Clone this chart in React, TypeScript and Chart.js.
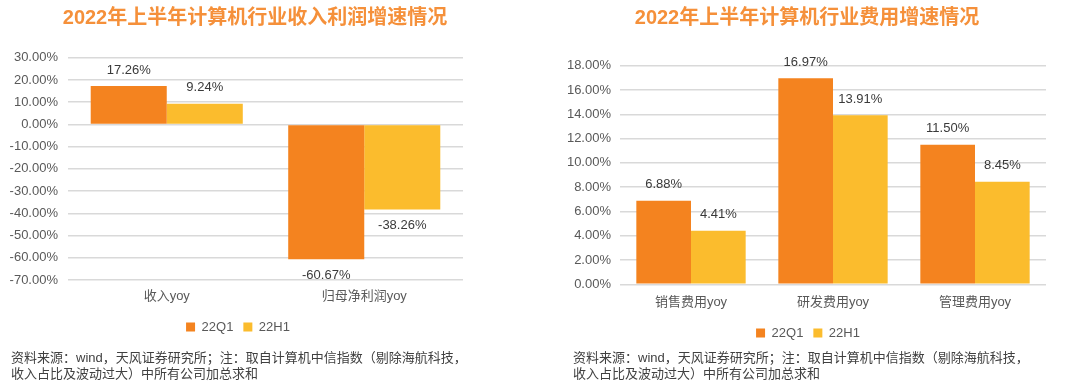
import React, { useEffect, useRef } from 'react';
import { Chart, registerables } from 'chart.js';

Chart.register(...registerables);

const leftTitle = '2022年上半年计算机行业收入利润增速情况';
const leftCategories = ['收入yoy', '归母净利润yoy'];
const left22Q1 = [17.26, -60.67];
const left22H1 = [9.24, -38.26];
const leftTicks = { min: -70, max: 30, step: 10 };

const rightTitle = '2022年上半年计算机行业费用增速情况';
const rightCategories = ['销售费用yoy', '研发费用yoy', '管理费用yoy'];
const right22Q1 = [6.88, 16.97, 11.5];
const right22H1 = [4.41, 13.91, 8.45];
const rightTicks = { min: 0, max: 18, step: 2 };

const seriesNames = ['22Q1', '22H1'];
const noteLines = [
  '资料来源：wind，天风证券研究所；注：取自计算机中信指数（剔除海航科技，',
  '收入占比及波动过大）中所有公司加总求和',
];

const FONT = "'Liberation Sans', Arial, 'Noto Sans CJK SC', sans-serif";
const ORANGE = '#F4831F';
const YELLOW = '#FBBC2D';

const placePlugin = {
  id: 'place',
  afterLayout(chart: any, _args: any, opts: any) {
    const t = chart.titleBlock;
    if (t && opts.titleCenter != null) {
      const w = t.right - t.left;
      t.left = opts.titleCenter - w / 2;
      t.right = t.left + w;
    }
    const l = chart.legend;
    if (l && opts.legendCenter != null) {
      const w = l.right - l.left;
      l.left = opts.legendCenter - w / 2;
      l.right = l.left + w;
    }
  },
};

const valueLabels = {
  id: 'valueLabels',
  afterDatasetsDraw(chart: any) {
    const ctx = chart.ctx;
    ctx.save();
    ctx.font = `13px ${FONT}`;
    ctx.fillStyle = '#3A3A3A';
    ctx.textAlign = 'center';
    ctx.textBaseline = 'middle';
    chart.data.datasets.forEach((ds: any, di: number) => {
      chart.getDatasetMeta(di).data.forEach((bar: any, i: number) => {
        const v = ds.data[i];
        const y = v >= 0 ? bar.y - 16 : bar.y + 16;
        ctx.fillText(v.toFixed(2) + '%', bar.x, y);
      });
    });
    ctx.restore();
  },
};

type Cfg = {
  title: string;
  categories: string[];
  q1: number[];
  h1: number[];
  ticks: { min: number; max: number; step: number };
  yWidth: number;
  padRight: number;
  padBottom: number;
  titleBottom: number;
  xHeight: number;
  xPad: number;
  yPad: number;
  titleCenter: number;
  legendCenter: number;
};

function BarChart({ cfg, width }: { cfg: Cfg; width: number }) {
  const ref = useRef<HTMLCanvasElement | null>(null);
  useEffect(() => {
    if (!ref.current) return;
    const chart = new Chart(ref.current, {
      type: 'bar',
      data: {
        labels: cfg.categories,
        datasets: [
          { label: seriesNames[0], data: cfg.q1, backgroundColor: ORANGE, borderWidth: 0 },
          { label: seriesNames[1], data: cfg.h1, backgroundColor: YELLOW, borderWidth: 0 },
        ],
      },
      options: {
        animation: false,
        responsive: false,
        maintainAspectRatio: false,
        layout: { padding: { left: 0, right: cfg.padRight, top: 0, bottom: cfg.padBottom } },
        datasets: { bar: { categoryPercentage: 0.77, barPercentage: 1 } },
        scales: {
          x: {
            grid: { display: false, drawTicks: false },
            border: { display: false },
            ticks: { color: '#595959', font: { size: 13, family: FONT }, padding: cfg.xPad },
            afterFit: (s: any) => {
              s.height = cfg.xHeight;
            },
          },
          y: {
            min: cfg.ticks.min,
            max: cfg.ticks.max,
            grid: { color: '#D9D9D9', lineWidth: 1.5, drawTicks: false },
            border: { display: false },
            ticks: {
              stepSize: cfg.ticks.step,
              color: '#595959',
              font: { size: 13, family: FONT },
              padding: cfg.yPad,
              callback: (v: any) => Number(v).toFixed(2) + '%',
            },
            afterFit: (s: any) => {
              s.width = cfg.yWidth;
            },
          },
        },
        plugins: {
          title: {
            display: true,
            text: cfg.title,
            color: '#F5903A',
            font: { size: 20, weight: 'bold', family: FONT, lineHeight: 1.2 },
            padding: { top: 6, bottom: cfg.titleBottom },
          },
          legend: {
            display: true,
            position: 'bottom',
            labels: {
              boxWidth: 9,
              boxHeight: 9,
              color: '#595959',
              font: { size: 13, family: FONT },
              padding: 10,
            },
          },
          tooltip: { enabled: false },
          place: { titleCenter: cfg.titleCenter, legendCenter: cfg.legendCenter },
        } as any,
      },
      plugins: [placePlugin, valueLabels],
    } as any);
    return () => chart.destroy();
  }, [cfg, width]);
  return <canvas ref={ref} width={width} height={388} style={{ display: 'block', width, height: 388 }} />;
}

const leftCfg: Cfg = {
  title: leftTitle,
  categories: leftCategories,
  q1: left22Q1,
  h1: left22H1,
  ticks: leftTicks,
  yWidth: 68,
  padRight: 67,
  padBottom: 44.5,
  titleBottom: 27.7,
  xHeight: 30.5,
  xPad: 9,
  yPad: 10,
  titleCenter: 255,
  legendCenter: 238,
};

const rightCfg: Cfg = {
  title: rightTitle,
  categories: rightCategories,
  q1: right22Q1,
  h1: right22H1,
  ticks: rightTicks,
  yWidth: 80,
  padRight: 34,
  padBottom: 38.5,
  titleBottom: 35.7,
  xHeight: 32.2,
  xPad: 10,
  yPad: 9,
  titleCenter: 267,
  legendCenter: 268,
};

function Note({ left }: { left: number }) {
  return (
    <div
      style={{
        position: 'absolute',
        left,
        top: 350,
        fontFamily: FONT,
        fontSize: 13,
        lineHeight: '16px',
        color: '#404040',
        whiteSpace: 'nowrap',
      }}
    >
      {noteLines.map((t, i) => (
        <div key={i}>{t}</div>
      ))}
    </div>
  );
}

export default function App() {
  return (
    <div
      style={{
        position: 'absolute',
        left: 0,
        top: 0,
        width: 1080,
        height: 388,
        background: '#fff',
        overflow: 'hidden',
      }}
    >
      <div style={{ position: 'absolute', left: 0, top: 0 }}>
        <BarChart cfg={leftCfg} width={530} />
      </div>
      <div style={{ position: 'absolute', left: 540, top: 0 }}>
        <BarChart cfg={rightCfg} width={540} />
      </div>
      <Note left={11} />
      <Note left={573} />
    </div>
  );
}
